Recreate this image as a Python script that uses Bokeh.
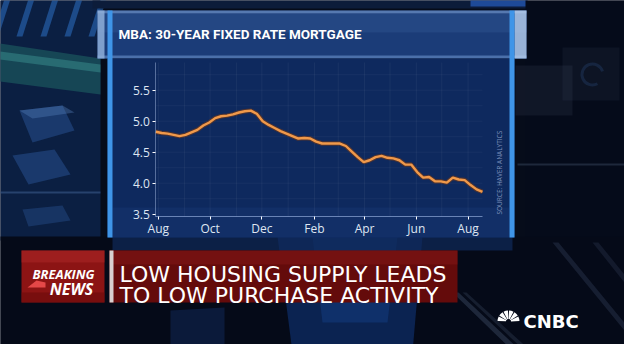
import pandas as pd
from bokeh.plotting import figure
from bokeh.models import (Range1d, LinearAxis, DatetimeAxis, FixedTicker, PrintfTickFormatter,
                          MonthsTicker, DatetimeTickFormatter)
from bokeh.core.properties import value
from bokeh.embed import file_html
from bokeh.resources import INLINE

# ---------------- data ----------------
start_date = "2018-07-29"
rates = [4.83, 4.81, 4.80, 4.78, 4.76, 4.78, 4.82, 4.86, 4.93, 4.98,
         5.05, 5.08, 5.09, 5.11, 5.14, 5.16, 5.17, 5.12, 5.00, 4.94,
         4.89, 4.84, 4.80, 4.76, 4.72, 4.73, 4.72, 4.67, 4.64, 4.64,
         4.64, 4.64, 4.60, 4.51, 4.42, 4.34, 4.37, 4.42, 4.44, 4.41,
         4.40, 4.37, 4.30, 4.30, 4.18, 4.09, 4.10, 4.03, 4.03, 4.01,
         4.09, 4.06, 4.05, 3.97, 3.90, 3.86]
dates = pd.date_range(start_date, periods=len(rates), freq="7D")
y_ticks = [3.5, 4.0, 4.5, 5.0, 5.5]
tick_months = [1, 3, 5, 7, 9, 11]  # Feb, Apr, Jun, Aug, Oct, Dec (0-based)
grid_months = pd.date_range("2018-08-01", "2019-08-01", freq="MS")
grid_rates = [3.75, 4.0, 4.25, 4.5, 4.75, 5.0, 5.25, 5.5, 5.75]
title_text = "MBA: 30-YEAR FIXED RATE MORTGAGE"
headline = ["LOW HOUSING SUPPLY LEADS", "TO LOW PURCHASE ACTIVITY"]
flash = ["BREAKING", "NEWS"]
source_text = "SOURCE: HAVER ANALYTICS"
logo_text = "CNBC"

# ---------------- layout (canvas pixels, y down) ----------------
W, H = 624, 344
M = 8  # page margin: canvas px = picture px - 8
CH_L, CH_R = 163.3 - M, 490.0 - M          # chart data area, left/right
Y_LO_PX, Y_HI_PX = 221.7 - M, 97.7 - M      # pixel rows of 3.5 and 5.5
CH_T, CH_B = 70.0 - M, 224.3 - M            # chart frame top/bottom

p = figure(width=W, height=H, output_backend="svg", toolbar_location=None,
           x_range=Range1d(0, W), y_range=Range1d(H, 0),
           x_axis_location=None, y_axis_location=None, min_border=0)
p.border_fill_color = "#060c1a"
p.background_fill_color = "#060c1a"
p.outline_line_color = None
p.grid.visible = False

# chart scales mapped onto the chart area of the canvas
t0 = dates[0].value / 1e6
t1 = dates[-1].value / 1e6
ms_per_px = (t1 - t0) / (CH_R - CH_L)
p.extra_x_ranges = {"date": Range1d(t0 - CH_L * ms_per_px, t0 + (W - CH_L) * ms_per_px)}
v_per_px = (y_ticks[-1] - y_ticks[0]) / (Y_LO_PX - Y_HI_PX)
p.extra_y_ranges = {"rate": Range1d(y_ticks[0] - (H - Y_LO_PX) * v_per_px,
                                    y_ticks[0] + Y_LO_PX * v_per_px)}
rate_lo = y_ticks[0] - (CH_B - Y_LO_PX) * v_per_px
rate_hi = y_ticks[0] + (Y_LO_PX - CH_T) * v_per_px


def px(v):
    return [a - M for a in v]


def box(x0, y0, x1, y1, color, alpha=1.0):
    p.quad(left=x0 - M, right=x1 - M, top=y0 - M, bottom=y1 - M,
           fill_color=color, fill_alpha=alpha, line_color=None)


def poly(xs, ys, color, alpha=1.0):
    p.patch(px(xs), px(ys), fill_color=color, fill_alpha=alpha, line_color=None)


def txt(x, y, text, size, color="white", font="Open Sans", style="normal",
        align="left", baseline="alphabetic", angle=0.0):
    p.text(x=[x - M], y=[y - M], text=[text], text_font_size=f"{size}px",
           text_color=color, text_font=value(font), text_font_style=style,
           text_align=align, text_baseline=baseline, angle=angle)


# ---------------- background ----------------
box(0, 0, 108, 248, "#0b1f42")
for sx in [0, 24, 48, 72, 96]:
    poly([sx + 14, sx + 20, sx + 6, sx], [0, 0, 44, 44], "#2f78cf", 0.5)
poly([0, 108, 108, 0], [50, 66, 102, 88], "#174a58", 0.9)
poly([0, 108, 108, 0], [58, 72, 80, 66], "#3a8f8f", 0.5)
poly([27, 70, 82, 40], [118, 113, 138, 150], "#2a5496", 0.5)
poly([27, 70, 82, 40], [118, 113, 120, 126], "#5c86c4", 0.35)
poly([20, 62, 78, 36], [163, 157, 182, 192], "#2a5496", 0.5)
poly([30, 70, 78, 36], [217, 213, 228, 234], "#2a5496", 0.4)
box(0, 199, 108, 201, "#3a5a8a", 0.6)
box(100, 0, 535, 16, "#0c1c3a")
box(478, 0, 535, 14, "#2356b0", 0.8)
box(533, 0, 640, 250, "#050b1a")
box(570, 55, 627, 108, "#8090b0", 0.07)
box(523, 73, 580, 123, "#8090b0", 0.09)
p.annular_wedge(x=[600 - M], y=[82 - M], inner_radius=9, outer_radius=12,
                start_angle=0.3, end_angle=5.2, fill_color="#2c4f80", fill_alpha=0.3,
                line_color=None)
box(525, 171, 640, 173, "#44546e", 0.4)
# lower area
box(0, 244, 640, 360, "#050a18")
poly([285, 430, 420, 300], [244, 244, 360, 360], "#0e2c64", 0.75)
poly([320, 405, 395, 330], [244, 244, 330, 330], "#14408a", 0.45)
box(120, 244, 520, 258, "#10295a", 0.7)
poly([178, 232, 232, 178], [318, 315, 360, 360], "#0c1e44", 0.8)
poly([460, 466, 530, 522], [300, 300, 360, 360], "#5a6c8a", 0.3)
poly([470, 474, 540, 534], [300, 300, 360, 360], "#5a6c8a", 0.2)
poly([560, 566, 640, 640], [250, 250, 340, 348], "#4a5c7c", 0.25)
poly([600, 606, 640, 640], [250, 250, 292, 300], "#4a5c7c", 0.2)

# ---------------- chart panel ----------------
box(105, 18, 534, 66, "#1b3c78")
box(105, 18, 534, 21, "#6f93c8", 0.7)
box(105, 21, 534, 40, "#2c4f8a", 0.6)
box(105, 63, 534, 66, "#5f86bf", 0.7)
box(105, 18, 112, 66, "#8fb0da", 0.85)
box(522, 18, 534, 66, "#b8d0ee", 0.8)
box(115, 66, 522, 245, "#0e295e")
box(120, 215, 517, 245, "#163670", 0.5)
box(115, 18, 120, 245, "#3f95e8")
box(517, 18, 522, 245, "#3f95e8")

# faint grid inside chart area
p.segment(x0=grid_months, y0=[rate_lo] * len(grid_months), x1=grid_months,
          y1=[rate_hi] * len(grid_months), x_range_name="date", y_range_name="rate",
          line_color="white", line_alpha=0.05, line_width=1)
p.segment(x0=[dates[0]] * len(grid_rates), y0=grid_rates, x1=[dates[-1]] * len(grid_rates),
          y1=grid_rates, x_range_name="date", y_range_name="rate",
          line_color="white", line_alpha=0.045, line_width=1)

# ---------------- data line ----------------
p.line(dates, rates, x_range_name="date", y_range_name="rate",
       line_color="#7a3a14", line_width=4.5, line_alpha=0.6)
p.line(dates, rates, x_range_name="date", y_range_name="rate",
       line_color="#f0994a", line_width=2.4)

# ---------------- axes ----------------
yax = LinearAxis(y_range_name="rate", fixed_location=CH_L, bounds=(rate_lo, rate_hi),
                 ticker=FixedTicker(ticks=y_ticks), formatter=PrintfTickFormatter(format="%.1f"))
yax.axis_line_color = "#9fb6dc"
yax.axis_line_alpha = 0.5
yax.major_tick_line_color = "white"
yax.major_tick_out = 3
yax.major_tick_in = 0
yax.minor_tick_line_color = None
yax.major_label_standoff = 3
yax.major_label_text_color = "#dfe6f2"
yax.major_label_text_font = "Open Sans"
yax.major_label_text_font_size = "12px"
p.add_layout(yax, "left")

xax = DatetimeAxis(x_range_name="date", fixed_location=CH_B, bounds=(t0, t1),
                   ticker=MonthsTicker(months=tick_months),
                   formatter=DatetimeTickFormatter(months="%b", days="%b", years="%b"))
xax.axis_line_color = "#8fa8d8"
xax.axis_line_alpha = 0.7
xax.major_tick_line_color = "white"
xax.major_tick_out = 3
xax.major_tick_in = 0
xax.minor_tick_line_color = None
xax.major_label_standoff = 0
xax.major_label_text_color = "#dfe6f2"
xax.major_label_text_font = "Open Sans"
xax.major_label_text_font_size = "12px"
p.add_layout(xax, "below")

# ---------------- texts ----------------
txt(126, 41, title_text, 13.5, font="Roboto", style="bold")
txt(507, 222, source_text, 6.5, color="#7d92bb", angle=1.5708)

# breaking news banner
box(29, 258, 112, 310, "#8c1414")
box(29, 258, 112, 270, "#a82424", 0.6)
box(29, 300, 112, 310, "#6a0a0a", 0.6)
poly([35, 44, 53, 53, 35], [295, 288, 290, 295, 295], "#e44848")
box(117, 258, 465, 310, "#640b0b")
box(117, 258, 465, 272, "#7e1616", 0.6)
box(117, 258, 121, 310, "#d8d0d0")
txt(71, 281.7, flash[0], 13, style="bold italic", align="center")
txt(79, 296, flash[1], 16, style="bold italic", align="center")
txt(127, 281.7, headline[0], 22, font="DejaVu Sans")
txt(127, 302.7, headline[1], 22, font="DejaVu Sans")

# logo
p.annular_wedge(x=[516 - M] * 6, y=[329 - M] * 6, inner_radius=2.5, outer_radius=11,
                start_angle=[0.05, 0.57, 1.10, 1.62, 2.14, 2.67],
                end_angle=[0.47, 1.00, 1.52, 2.04, 2.57, 3.09],
                fill_color="white", line_color=None)
txt(531, 329, logo_text, 18, font="DejaVu Sans", style="bold")

html = file_html(p, INLINE)
open("out.html", "w").write(html)
